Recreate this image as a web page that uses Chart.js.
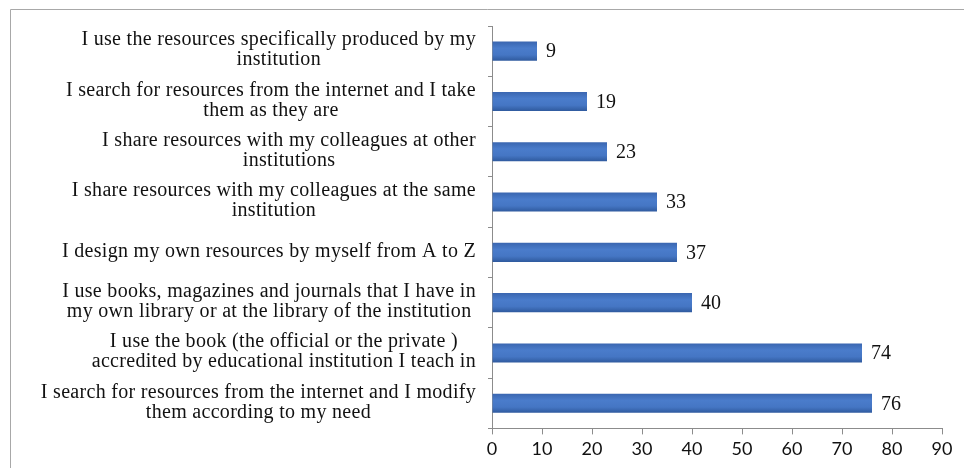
<!DOCTYPE html>
<html>
<head>
<meta charset="utf-8">
<script src="https://cdn.jsdelivr.net/npm/chart.js@4/dist/chart.umd.min.js"></script>
<style>
  html, body { margin: 0; padding: 0; background: #fff; }
  #wrap { width: 964px; height: 468px; }
</style>
</head>
<body>
<div id="wrap"><canvas id="myChart"></canvas></div>
<script>
// survey answers, top bar first
var answers = [
  ["I use the resources specifically produced by my", "institution"],
  ["I search for resources from the internet and I take", "them as they are"],
  ["I share resources with my colleagues at other", "institutions"],
  ["I share resources with my colleagues at the same", "institution"],
  ["I design my own resources by myself from A to Z"],
  ["I use books, magazines and journals that I have in", "my own library or at the library of the institution"],
  ["I use the book (the official or the private )", "accredited by educational institution I teach in"],
  ["I search for resources from the internet and I modify", "them according to my need"]
];
var counts = [9, 19, 23, 33, 37, 40, 74, 76];
var xTicks = [0, 10, 20, 30, 40, 50, 60, 70, 80, 90];

var serif = "'Liberation Serif', 'Times New Roman', serif";
var labelSize = 20;
var barPct = 0.76, catPct = 0.5;

// grey frame round the whole figure (only left and top edges show)
var framePlugin = {
  id: "frame",
  beforeDraw: function(chart) {
    var ctx = chart.ctx;
    ctx.save();
    ctx.strokeStyle = "#a8a8a8";
    ctx.lineWidth = 1;
    ctx.beginPath();
    ctx.moveTo(10.5, chart.height);
    ctx.lineTo(10.5, 9.5);
    ctx.lineTo(chart.width, 9.5);
    ctx.stroke();
    ctx.restore();
  }
};

// category text: each block centred on itself, blocks right-aligned against the axis
var categoryPlugin = {
  id: "categoryText",
  afterDraw: function(chart) {
    var ctx = chart.ctx;
    var y = chart.scales.y;
    var right = chart.chartArea.left - 16;
    var lineH = 20;
    ctx.save();
    ctx.font = labelSize + "px " + serif;
    ctx.letterSpacing = "0.3px";
    ctx.fillStyle = "#111";
    ctx.textAlign = "center";
    ctx.textBaseline = "middle";
    answers.forEach(function(lines, i) {
      var w = 0;
      lines.forEach(function(l) { w = Math.max(w, ctx.measureText(l).width); });
      var cx = right - w / 2;
      var cy = y.getPixelForValue(i) - 1;
      var top = cy - (lines.length - 1) * lineH / 2;
      lines.forEach(function(l, k) { ctx.fillText(l, cx, top + k * lineH); });
    });
    ctx.restore();
  }
};

// value printed just past the end of each bar
var valuePlugin = {
  id: "valueText",
  afterDatasetsDraw: function(chart) {
    var ctx = chart.ctx;
    var meta = chart.getDatasetMeta(0);
    ctx.save();
    ctx.font = labelSize + "px " + serif;
    ctx.fillStyle = "#111";
    ctx.textAlign = "left";
    ctx.textBaseline = "middle";
    meta.data.forEach(function(bar, i) {
      ctx.fillText(String(counts[i]), bar.x + 9, bar.y + 1);
    });
    ctx.restore();
  }
};

// light band through the middle of each bar, darker lower edge
function barFill(context) {
  var chart = context.chart;
  var ys = chart.scales.y;
  if (!chart.chartArea || !ys || context.dataIndex === undefined) return "#4472c4";
  var cy = ys.getPixelForValue(context.dataIndex);
  var h = (chart.chartArea.bottom - chart.chartArea.top) / answers.length * barPct * catPct;
  if (!isFinite(cy) || !isFinite(h) || h <= 0) return "#4472c4";
  var g = chart.ctx.createLinearGradient(0, cy - h / 2, 0, cy + h / 2);
  g.addColorStop(0, "#3a66b0");
  g.addColorStop(0.35, "#4a7ccb");
  g.addColorStop(0.7, "#4576c4");
  g.addColorStop(1, "#2f5a9e");
  return g;
}

var chart = new Chart("myChart", {
  type: "bar",
  data: {
    labels: answers,
    datasets: [{
      data: counts,
      backgroundColor: barFill,
      borderWidth: 0,
      barPercentage: barPct,
      categoryPercentage: catPct
    }]
  },
  options: {
    indexAxis: "y",
    responsive: true,
    maintainAspectRatio: false,
    animation: false,
    layout: { padding: { left: 0, right: 22, top: 26, bottom: 4 } },
    plugins: { legend: { display: false }, tooltip: { enabled: false } },
    scales: {
      x: {
        min: 0,
        max: 90,
        afterBuildTicks: function(s) { s.ticks = xTicks.map(function(v) { return { value: v }; }); },
        grid: { drawOnChartArea: false, drawTicks: true, tickLength: 6, color: "#8c8c8c" },
        border: { color: "#8c8c8c" },
        ticks: {
          color: "#111",
          padding: 4,
          maxRotation: 0,
          font: { family: "Lato, 'Open Sans', sans-serif", size: 18 }
        }
      },
      y: {
        afterFit: function(s) { s.width = 492; },
        grid: { offset: true, drawOnChartArea: false, drawTicks: true, tickLength: 4, color: "#8c8c8c" },
        border: { color: "#8c8c8c" },
        ticks: { display: false }
      }
    }
  },
  plugins: [framePlugin, categoryPlugin, valuePlugin]
});
</script>
</body>
</html>
